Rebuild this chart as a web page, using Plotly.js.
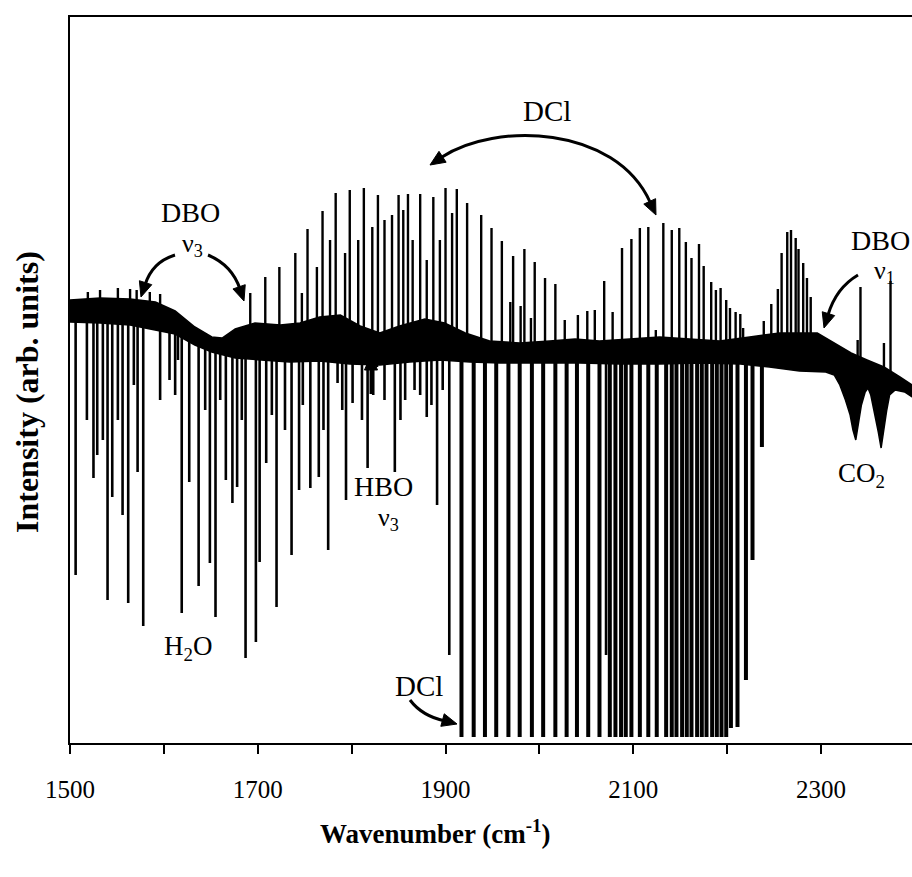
<!DOCTYPE html>
<html><head><meta charset="utf-8">
<script src="https://cdn.plot.ly/plotly-3.0.1.min.js"></script>
<style>html,body{margin:0;padding:0;background:#fff;overflow:hidden}#chart{width:912px;height:877px}</style>
</head><body><div id="chart"></div>
<script>
// ---- data (wavenumber in cm-1, intensity in arbitrary units) ----
const bandTopWn = [1500,1532,1564,1591,1612,1633,1651,1662,1676,1697,1724,1745,1766,1788,1809,1830,1851,1878,1899,1921,1947,1979,2011,2038,2064,2096,2128,2160,2192,2224,2256,2296,2314,2332,2349,2367,2384,2397];
const bandTopVal = [443,445,444,441,432,416,406,405,414,420,418,420,426,428,417,410,417,424,420,410,402,400,402,404,402,404,406,404,402,406,410,410,400,390,383,376,366,358];
const bandBotWn = [1500,1532,1564,1591,1612,1633,1651,1676,1702,1734,1766,1798,1830,1862,1894,1926,1958,2001,2043,2086,2128,2171,2214,2245,2277,2305,2314,2320,2326,2331,2334,2337,2340,2343,2347,2350,2353,2357,2361,2364,2367,2370,2373,2379,2389,2397];
const bandBotVal = [421,420,418,413,409,398,391,385,383,381,382,379,378,381,383,381,380,380,380,379,379,380,379,376,372,371,368,358,343,328,313,303,318,338,351,355,348,328,311,295,313,333,348,353,351,346];

const upWn = [1519,1532,1551,1564,1571,1585,1596,1692,1708,1723,1740,1747,1753,1763,1769,1777,1783,1793,1798,1807,1813,1822,1828,1835,1843,1850,1855,1860,1865,1873,1880,1887,1894,1900,1907,1912,1923,1938,1949,1960,1969,1972,1980,1984,1991,1995,2006,2017,2027,2041,2051,2059,2069,2078,2088,2098,2107,2116,2124,2132,2141,2149,2156,2162,2170,2175,2183,2188,2193,2199,2203,2209,2214,2217,2239,2247,2254,2258,2264,2268,2273,2276,2281,2285,2289,2339,2342,2367,2374];
const upVal = [451,453,455,454,453,451,449,450,466,476,490,450,514,476,532,503,550,490,553,503,555,516,548,523,528,548,533,549,503,549,483,546,503,555,530,554,540,528,515,502,441,487,437,494,425,481,465,459,423,428,432,433,462,431,495,504,515,516,413,520,513,515,501,485,499,477,461,453,455,443,435,431,429,415,422,439,454,490,511,513,505,494,480,465,446,403,456,400,462];

const downWn = [1506,1518,1525,1529,1535,1540,1545,1551,1556,1562,1568,1572,1578,1596,1606,1612,1615,1619,1627,1637,1644,1649,1655,1660,1666,1673,1678,1683,1687,1698,1702,1709,1715,1720,1729,1736,1744,1748,1756,1765,1770,1775,1785,1790,1794,1801,1811,1817,1823,1827,1835,1846,1852,1857,1867,1873,1880,1885,1891,1897,1904,2052,2071];
const downVal = [168,323,265,288,303,143,246,323,228,140,358,271,117,343,363,348,383,130,261,157,333,180,126,343,263,240,256,323,85,101,181,280,328,136,313,188,253,338,255,266,313,193,360,333,243,340,323,275,348,376,343,271,323,343,353,348,326,338,238,353,88,314,88];

const dclWn = [1917,1930,1942,1954,1967,1979,1992,2004,2017,2029,2040,2052,2064,2075,2081,2087,2092,2098,2107,2116,2125,2135,2141,2146,2152,2157,2162,2168,2173,2178,2184,2189,2194,2199,2204,2211,2220,2227,2237];
const dclVal = [6,6,6,6,6,6,6,6,6,6,6,6,6,6,6,6,6,6,6,6,6,6,6,6,6,6,6,6,6,6,6,6,6,6,15,16,63,183,296];

// axis ticks: labelled every 200 cm-1 from 1500, unlabelled marks every 100 cm-1
const tickStart = 1500, labelStep = 200, markStep = 100;

// ---- geometry helpers (pixel -> paper) ----
const L = 70, T = 17, W = 842, H = 726;
const xp = px => (px - L) / W;
const yp = py => (T + H - py) / H;

function interp(xs, ys, x) {
  if (x <= xs[0]) return ys[0];
  for (let i = 1; i < xs.length; i++) {
    if (x <= xs[i]) { const f = (x - xs[i-1]) / (xs[i] - xs[i-1]); return ys[i-1] + f * (ys[i] - ys[i-1]); }
  }
  return ys[ys.length - 1];
}
function mid(x) { return (interp(bandTopWn, bandTopVal, x) + interp(bandBotWn, bandBotVal, x)) / 2; }
function spikes(xs, ys) {
  const X = [], Y = [];
  xs.forEach((x, i) => { X.push(x, x, null); Y.push(mid(x), ys[i], null); });
  return {X, Y};
}

const band = {
  x: bandTopWn.concat(bandBotWn.slice().reverse()),
  y: bandTopVal.concat(bandBotVal.slice().reverse()),
  mode: 'lines', fill: 'toself', fillcolor: '#000', line: {color: '#000', width: 1.5},
  hoverinfo: 'skip', showlegend: false
};
const su = spikes(upWn, upVal), sd = spikes(downWn, downVal), sc = spikes(dclWn, dclVal);
const upTrace = {x: su.X, y: su.Y, mode: 'lines', line: {color: '#000', width: 2.4}, showlegend: false, hoverinfo: 'skip'};
const downTrace = {x: sd.X, y: sd.Y, mode: 'lines', line: {color: '#000', width: 2.6}, showlegend: false, hoverinfo: 'skip'};
const dclTrace = {x: sc.X, y: sc.Y, mode: 'lines', line: {color: '#000', width: 4}, showlegend: false, hoverinfo: 'skip'};

const serif = 'Liberation Serif, Times New Roman, serif';
function label(text, px, py, size, extra) {
  return Object.assign({text: text, xref: 'paper', yref: 'paper', x: xp(px), y: yp(py),
    xanchor: 'center', yanchor: 'middle', showarrow: false,
    font: {family: serif, size: size, color: '#000'}}, extra || {});
}
function pt(px, py) { return xp(px).toFixed(5) + ',' + yp(py).toFixed(5); }
function curve(d) {
  return {type: 'path', xref: 'paper', yref: 'paper', path: d, line: {color: '#000', width: 3}};
}
// filled arrowhead: tip (tx,ty) in pixels, (bx,by) direction pointing back along the shaft
function head(tx, ty, bx, by) {
  const n = Math.hypot(bx, by); bx /= n; by /= n;
  const len = 15, hw = 6.5;
  const cx = tx + len * bx, cy = ty + len * by;
  const nx = -by, ny = bx;
  return {type: 'path', xref: 'paper', yref: 'paper', fillcolor: '#000', line: {color: '#000', width: 1},
    path: 'M ' + pt(tx, ty) + ' L ' + pt(cx + hw * nx, cy + hw * ny) + ' L ' + pt(cx - hw * nx, cy - hw * ny) + ' Z'};
}

const annotations = [
  label('DCl', 547, 111, 29),
  label('DBO', 190, 212, 28),
  label('ν<sub>3</sub>', 192, 245, 26),
  label('DBO', 880, 240, 28),
  label('ν<sub>1</sub>', 884, 272, 26),
  label('HBO', 383, 486, 28),
  label('ν<sub>3</sub>', 388, 519, 26),
  label('H<sub>2</sub>O', 188, 648, 27),
  label('DCl', 419, 686, 29),
  label('CO<sub>2</sub>', 861, 475, 27),
  label('Wavenumber (cm<sup>-1</sup>)', 435, 832, 27, {font: {family: serif, size: 27, color: '#000', weight: 'bold'}}),
  label('Intensity (arb. units)', 27, 392, 32, {textangle: -90, font: {family: serif, size: 32, color: '#000', weight: 'bold'}})
];

const shapes = [
  curve('M ' + pt(442,157) + ' C ' + pt(495,122) + ' ' + pt(615,125) + ' ' + pt(650,202)),
  curve('M ' + pt(175,255) + ' Q ' + pt(152,262) + ' ' + pt(145,285)),
  curve('M ' + pt(208,255) + ' Q ' + pt(232,265) + ' ' + pt(240,289)),
  curve('M ' + pt(858,275) + ' Q ' + pt(836,288) + ' ' + pt(828,315)),
  curve('M ' + pt(410,700) + ' Q ' + pt(422,716) + ' ' + pt(445,721)),
  {type: 'line', xref: 'paper', yref: 'paper', x0: xp(371), x1: xp(371), y0: yp(366), y1: yp(394), line: {color: '#000', width: 3}},
  head(430, 165, 55, -36),
  head(656, 215, -37, -80),
  head(141, 297, 8, -25),
  head(244, 301, -9, -26),
  head(824, 328, 9, -29),
  head(457, 724, -22, -6),
  head(371, 355, 0, 1)
];

const xr = [1500, 1500 + W / 0.9388];
const layout = {
  width: 912, height: 877,
  margin: {l: L, r: 0, t: T, b: 877 - T - H},
  paper_bgcolor: '#fff', plot_bgcolor: '#fff',
  showlegend: false,
  xaxis: {range: xr, tickmode: 'linear', tick0: tickStart, dtick: labelStep,
    ticks: 'outside', ticklen: 9, tickwidth: 2, tickcolor: '#000',
    minor: {tick0: tickStart, dtick: markStep, ticks: 'outside', ticklen: 9, tickwidth: 2, tickcolor: '#000', showgrid: false},
    showline: true, linecolor: '#000', linewidth: 2, mirror: true,
    showgrid: false, zeroline: false, ticklabelstandoff: 14,
    tickfont: {family: serif, size: 25, color: '#000'}},
  xaxis3: {range: xr, overlaying: 'x', anchor: 'y', side: 'bottom', tickmode: 'linear', tick0: tickStart, dtick: markStep,
    ticks: 'inside', ticklen: 8, tickwidth: 2, tickcolor: '#000', showticklabels: false,
    showline: false, showgrid: false, zeroline: false},
  yaxis: {range: [0, H], showline: true, linecolor: '#000', linewidth: 2, ticks: '',
    showticklabels: false, showgrid: false, zeroline: false},
  annotations: annotations,
  shapes: shapes
};

Plotly.newPlot('chart', [band, upTrace, downTrace, dclTrace], layout, {staticPlot: true, displayModeBar: false});
</script>
</body></html>
